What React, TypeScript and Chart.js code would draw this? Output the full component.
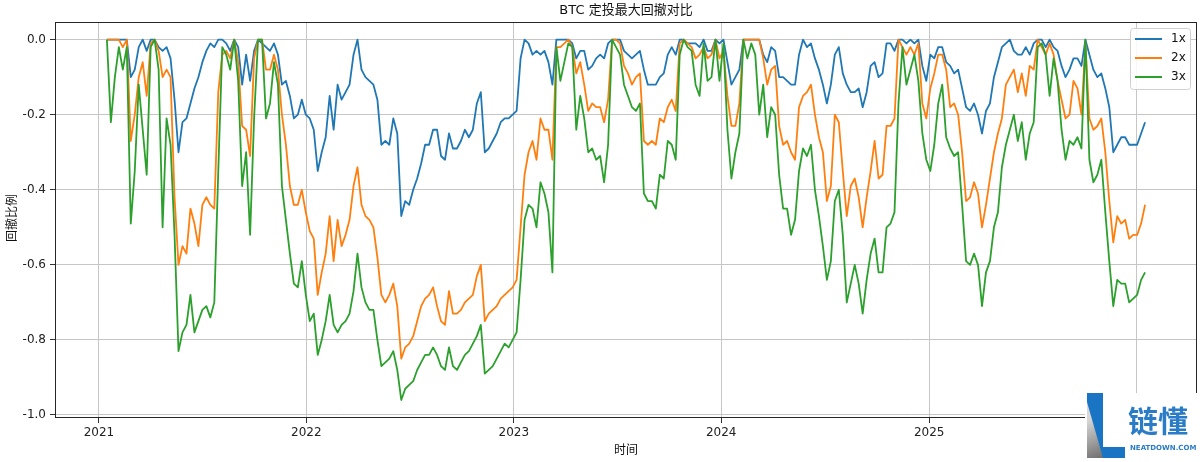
import React, { useEffect, useRef } from "react";
import { Chart, registerables } from "chart.js";

Chart.register(...registerables);

// ---- data (weekly samples) ----
const START_DATE_UTC = Date.UTC(2021, 0, 15);
const STEP_DAYS = 7;
const YEAR_TICKS = [2021, 2022, 2023, 2024, 2025, 2026];
const Y_TICKS = [0, -0.2, -0.4, -0.6, -0.8, -1.0];
const SERIES_NAMES = ["1x", "2x", "3x"];
const SERIES_COLORS = ["#1f77b4", "#ff7f0e", "#2ca02c"];

const DD_1X = [
  0, 0, 0, 0, 0, 0, -0.10, -0.08, -0.02, 0,
  -0.03, 0, 0, -0.02, -0.03, -0.02, -0.05, -0.16, -0.30, -0.22,
  -0.21, -0.17, -0.13, -0.10, -0.06, -0.03, -0.01, -0.02, 0, 0,
  -0.01, -0.03, 0, -0.02, -0.12, -0.04, -0.11, -0.03, 0, -0.01,
  -0.02, -0.03, -0.01, -0.04, -0.12, -0.11, -0.15, -0.21, -0.20, -0.16,
  -0.20, -0.21, -0.24, -0.35, -0.30, -0.26, -0.15, -0.24, -0.12, -0.16,
  -0.14, -0.12, -0.04, 0, -0.08, -0.10, -0.11, -0.12, -0.16, -0.28,
  -0.27, -0.28, -0.21, -0.25, -0.47, -0.43, -0.44, -0.40, -0.37, -0.33,
  -0.28, -0.28, -0.24, -0.24, -0.31, -0.32, -0.25, -0.29, -0.29, -0.27,
  -0.24, -0.26, -0.24, -0.17, -0.14, -0.30, -0.29, -0.27, -0.25, -0.22,
  -0.21, -0.21, -0.20, -0.19, -0.05, 0, -0.01, -0.04, -0.03, -0.04,
  -0.03, -0.06, -0.12, 0, 0, 0, 0, -0.01, -0.05, -0.03,
  -0.03, -0.08, -0.07, -0.05, -0.04, -0.05, -0.01, 0, 0, 0,
  -0.03, -0.04, -0.05, -0.04, -0.03, -0.08, -0.12, -0.12, -0.12, -0.10,
  -0.09, -0.04, -0.02, -0.04, 0, 0, -0.01, -0.01, -0.01, -0.02,
  0, -0.03, -0.03, 0, -0.01, 0, -0.06, -0.12, -0.10, -0.08,
  0, 0, 0, 0, 0, -0.04, -0.06, -0.02, -0.03, -0.10,
  -0.10, -0.11, -0.12, -0.12, -0.04, 0, -0.02, -0.01, -0.05, -0.08,
  -0.12, -0.17, -0.12, -0.04, -0.02, -0.09, -0.12, -0.14, -0.14, -0.13,
  -0.18, -0.14, -0.07, -0.06, -0.10, -0.09, -0.01, -0.01, -0.03, 0,
  0, -0.01, 0, -0.01, 0, -0.07, -0.11, -0.04, -0.05, -0.02,
  -0.02, -0.06, -0.07, -0.09, -0.08, -0.13, -0.18, -0.19, -0.17, -0.20,
  -0.25, -0.19, -0.17, -0.10, -0.06, -0.02, -0.01, 0, -0.03, -0.04,
  -0.04, -0.02, -0.04, -0.01, 0, 0, -0.02, 0, -0.02, -0.03,
  -0.07, -0.10, -0.08, -0.05, -0.05, -0.07, 0, -0.04, -0.08, -0.10,
  -0.09, -0.13, -0.18, -0.30, -0.28, -0.26, -0.26, -0.28, -0.28, -0.28,
  -0.25, -0.22,
];

const DD_2X = [
  0, 0, 0, 0, -0.02, 0, -0.27, -0.20, -0.10, -0.06,
  -0.15, -0.01, 0, -0.03, -0.10, -0.08, -0.10, -0.42, -0.60, -0.55,
  -0.57, -0.45, -0.49, -0.55, -0.44, -0.42, -0.44, -0.45, -0.14, -0.04,
  -0.03, -0.05, 0, -0.06, -0.23, -0.24, -0.31, -0.05, 0, 0,
  -0.08, -0.08, -0.04, -0.08, -0.20, -0.28, -0.39, -0.44, -0.44, -0.40,
  -0.46, -0.51, -0.53, -0.68, -0.62, -0.57, -0.47, -0.59, -0.48, -0.55,
  -0.52, -0.48, -0.39, -0.34, -0.44, -0.47, -0.48, -0.50, -0.58, -0.68,
  -0.70, -0.68, -0.65, -0.71, -0.85, -0.82, -0.81, -0.79, -0.75, -0.71,
  -0.69, -0.68, -0.66, -0.71, -0.75, -0.76, -0.67, -0.73, -0.73, -0.72,
  -0.70, -0.69, -0.68, -0.63, -0.60, -0.75, -0.73, -0.72, -0.71, -0.69,
  -0.68, -0.67, -0.66, -0.64, -0.50, -0.36, -0.30, -0.27, -0.32, -0.21,
  -0.24, -0.24, -0.32, -0.02, -0.02, -0.01, 0, -0.02, -0.09, -0.06,
  -0.12, -0.19, -0.17, -0.18, -0.18, -0.22, -0.16, 0, 0, -0.01,
  -0.07, -0.09, -0.12, -0.10, -0.09, -0.27, -0.28, -0.27, -0.28, -0.21,
  -0.22, -0.18, -0.16, -0.19, -0.01, 0, -0.01, -0.02, -0.05, -0.04,
  -0.02, -0.05, -0.04, 0, -0.05, -0.03, -0.15, -0.23, -0.23, -0.17,
  0, 0, 0, 0, 0, -0.05, -0.12, -0.08, -0.07, -0.23,
  -0.28, -0.27, -0.30, -0.32, -0.18, -0.15, -0.14, -0.12, -0.20, -0.26,
  -0.30, -0.43, -0.39, -0.20, -0.22, -0.35, -0.47, -0.39, -0.37, -0.42,
  -0.50, -0.42, -0.35, -0.27, -0.37, -0.36, -0.23, -0.23, -0.21, 0,
  -0.02, -0.04, -0.02, -0.04, -0.01, -0.17, -0.21, -0.13, -0.09, -0.04,
  -0.04, -0.08, -0.18, -0.17, -0.20, -0.30, -0.43, -0.42, -0.38, -0.41,
  -0.50, -0.44, -0.37, -0.30, -0.25, -0.21, -0.12, -0.10, -0.08, -0.14,
  -0.09, -0.15, -0.07, -0.08, 0, -0.02, -0.04, -0.01, -0.04, -0.11,
  -0.16, -0.21, -0.20, -0.11, -0.13, -0.20, -0.01, -0.21, -0.24, -0.23,
  -0.21, -0.30, -0.43, -0.54, -0.47, -0.49, -0.48, -0.53, -0.52, -0.52,
  -0.49, -0.44,
];

const DD_3X = [
  0, -0.22, -0.10, -0.02, -0.08, -0.02, -0.49, -0.35, -0.12, -0.24,
  -0.36, -0.02, 0, -0.08, -0.50, -0.21, -0.28, -0.52, -0.83, -0.78,
  -0.76, -0.68, -0.78, -0.75, -0.72, -0.71, -0.74, -0.70, -0.35, -0.02,
  -0.04, -0.08, 0, -0.11, -0.39, -0.30, -0.52, -0.21, 0, 0,
  -0.21, -0.17, -0.06, -0.12, -0.39, -0.48, -0.57, -0.65, -0.66, -0.59,
  -0.68, -0.75, -0.73, -0.84, -0.80, -0.75, -0.68, -0.76, -0.78, -0.76,
  -0.75, -0.73, -0.67, -0.57, -0.66, -0.70, -0.72, -0.72, -0.80, -0.87,
  -0.86, -0.85, -0.83, -0.88, -0.96, -0.93, -0.92, -0.91, -0.88, -0.86,
  -0.84, -0.84, -0.82, -0.84, -0.87, -0.88, -0.82, -0.87, -0.88, -0.86,
  -0.84, -0.83, -0.81, -0.79, -0.76, -0.89, -0.88, -0.87, -0.85, -0.83,
  -0.81, -0.82, -0.80, -0.78, -0.64, -0.48, -0.44, -0.45, -0.50, -0.38,
  -0.41, -0.46, -0.62, -0.02, -0.11, -0.06, -0.01, -0.02, -0.24, -0.15,
  -0.21, -0.30, -0.29, -0.32, -0.31, -0.38, -0.28, 0, -0.02, -0.04,
  -0.12, -0.15, -0.18, -0.19, -0.17, -0.41, -0.43, -0.43, -0.45, -0.36,
  -0.37, -0.27, -0.28, -0.32, -0.04, 0, -0.02, -0.03, -0.12, -0.15,
  -0.01, -0.11, -0.10, 0, -0.11, -0.01, -0.24, -0.37, -0.30, -0.25,
  0, -0.05, -0.01, -0.04, -0.20, -0.12, -0.26, -0.18, -0.20, -0.36,
  -0.45, -0.45, -0.52, -0.48, -0.35, -0.29, -0.31, -0.28, -0.40, -0.47,
  -0.55, -0.64, -0.59, -0.43, -0.40, -0.52, -0.70, -0.65, -0.60, -0.65,
  -0.73, -0.64, -0.57, -0.53, -0.62, -0.62, -0.50, -0.49, -0.46, -0.17,
  -0.02, -0.12, -0.08, -0.04, -0.11, -0.25, -0.32, -0.35, -0.28, -0.17,
  -0.12, -0.26, -0.29, -0.31, -0.30, -0.44, -0.59, -0.60, -0.57, -0.60,
  -0.71, -0.62, -0.59, -0.50, -0.46, -0.34, -0.28, -0.24, -0.20, -0.27,
  -0.22, -0.32, -0.25, -0.22, -0.02, -0.01, -0.04, -0.15, -0.05, -0.11,
  -0.24, -0.32, -0.27, -0.28, -0.26, -0.29, 0, -0.32, -0.38, -0.36,
  -0.32, -0.46, -0.59, -0.71, -0.64, -0.65, -0.65, -0.70, -0.69, -0.68,
  -0.64, -0.62,
];

const TITLE = "BTC 定投最大回撤对比";
const X_TITLE = "时间";
const Y_TITLE = "回撤比例";

const DAY_MS = 86400000;
const FONT_LATIN = '"DejaVu Sans", "Noto Sans CJK SC", sans-serif';
const FONT_CJK = '"DejaVu Sans", "Noto Sans CJK SC", sans-serif';

const SERIES = [DD_1X, DD_2X, DD_3X];

const decorPlugin = {
  id: "decor",
  afterDraw(chart: any) {
    const { ctx, chartArea: a } = chart;
    ctx.save();
    // frame (all four spines)
    ctx.strokeStyle = "#262626";
    ctx.lineWidth = 1;
    ctx.strokeRect(Math.round(a.left) + 0.5, Math.round(a.top) + 0.5, Math.round(a.right - a.left) - 1, Math.round(a.bottom - a.top) - 1);

    const cx = (a.left + a.right) / 2;
    ctx.fillStyle = "#111";
    ctx.textAlign = "center";
    ctx.textBaseline = "middle";
    ctx.font = `13px ${FONT_CJK}`;
    ctx.fillText(TITLE, cx, 11);
    ctx.font = `12px ${FONT_CJK}`;
    ctx.fillText(X_TITLE, cx, 451);
    ctx.save();
    ctx.translate(13, (a.top + a.bottom) / 2 - 2);
    ctx.rotate(-Math.PI / 2);
    ctx.fillText(Y_TITLE, 0, 0);
    ctx.restore();

    // legend
    const lx = 1130.5, ly = 28.5, lw = 60, lh = 61;
    ctx.beginPath();
    (ctx as any).roundRect(lx, ly, lw, lh, 3);
    ctx.fillStyle = "rgba(255,255,255,0.85)";
    ctx.fill();
    ctx.strokeStyle = "#d0d0d0";
    ctx.lineWidth = 1;
    ctx.stroke();
    ctx.font = `12px ${FONT_LATIN}`;
    ctx.textAlign = "left";
    SERIES_NAMES.forEach((name, i) => {
      const y = 39 + i * 19;
      ctx.strokeStyle = SERIES_COLORS[i];
      ctx.lineWidth = 2;
      ctx.beginPath();
      ctx.moveTo(1135, y);
      ctx.lineTo(1162, y);
      ctx.stroke();
      ctx.fillStyle = "#111";
      ctx.fillText(name, 1171, y);
    });

    // watermark
    ctx.fillStyle = "#ffffff";
    ctx.fillRect(1085, 393, 115, 69);
    ctx.fillStyle = "#1a74c4";
    ctx.fillRect(1087, 393, 16, 65);
    const g = ctx.createLinearGradient(1087, 420, 1103, 458);
    g.addColorStop(0, "#d8d8d8");
    g.addColorStop(1, "#6e6e6e");
    ctx.fillStyle = g;
    ctx.beginPath();
    ctx.moveTo(1087, 402);
    ctx.lineTo(1103, 458);
    ctx.lineTo(1087, 458);
    ctx.closePath();
    ctx.fill();
    ctx.fillStyle = "#1a74c4";
    ctx.fillRect(1103, 447, 22, 11);
    ctx.fillStyle = "#2a7cc6";
    ctx.font = `bold 30px "Noto Sans CJK SC", sans-serif`;
    ctx.textAlign = "left";
    ctx.textBaseline = "middle";
    ctx.fillText("链懂", 1128, 421);
    ctx.font = `bold 7px "DejaVu Sans", sans-serif`;
    ctx.fillText("NEATDOWN.COM", 1130, 448);
    ctx.restore();
  },
};

export default function App() {
  const ref = useRef<HTMLCanvasElement>(null);
  useEffect(() => {
    const canvas = ref.current;
    if (!canvas) return;
    const xs = DD_1X.map((_, i) => START_DATE_UTC + i * STEP_DAYS * DAY_MS);
    const x0 = xs[0];
    const x1 = xs[xs.length - 1];
    const span = x1 - x0;
    const datasets = SERIES.map((vals, k) => ({
      label: SERIES_NAMES[k],
      data: vals.map((v, i) => ({ x: xs[i], y: v })),
      borderColor: SERIES_COLORS[k],
      backgroundColor: SERIES_COLORS[k],
      borderWidth: 1.8,
      pointRadius: 0,
      tension: 0,
      borderJoinStyle: "round" as const,
      order: 2 - k,
    }));
    const chart = new Chart(canvas, {
      type: "line",
      data: { datasets },
      plugins: [decorPlugin],
      options: {
        animation: false,
        responsive: false,
        devicePixelRatio: 1,
        parsing: false,
        layout: { padding: { top: 22, right: 3, left: 0, bottom: 0 } },
        plugins: { legend: { display: false }, title: { display: false }, tooltip: { enabled: false } },
        scales: {
          x: {
            type: "linear",
            min: x0 - 0.05 * span,
            max: x1 + 0.05 * span,
            afterBuildTicks: (s: any) => {
              s.ticks = YEAR_TICKS.map((y) => ({ value: Date.UTC(y, 0, 1) }));
            },
            afterFit: (s: any) => {
              s.height = 44;
            },
            grid: { color: "#c6c6c6", lineWidth: 1, drawTicks: true, tickLength: 5, tickColor: "#333" },
            border: { display: false },
            ticks: {
              autoSkip: false,
              maxRotation: 0,
              padding: 3,
              color: "#222",
              font: { family: FONT_LATIN, size: 12 },
              callback: (v: any) => String(new Date(Number(v)).getUTCFullYear()),
            },
          },
          y: {
            type: "linear",
            min: -1.008,
            max: 0.047,
            afterBuildTicks: (s: any) => {
              s.ticks = Y_TICKS.map((v) => ({ value: v }));
            },
            afterFit: (s: any) => {
              s.width = 55;
            },
            grid: { color: "#c6c6c6", lineWidth: 1, drawTicks: true, tickLength: 5, tickColor: "#333" },
            border: { display: false },
            ticks: {
              padding: 4,
              color: "#222",
              font: { family: FONT_LATIN, size: 12 },
              callback: (v: any) => Number(v).toFixed(1),
            },
          },
        },
      },
    } as any);
    return () => chart.destroy();
  }, []);
  return (
    <div style={{ position: "fixed", left: 0, top: 0, width: 1200, height: 462, background: "#fff" }}>
      <canvas ref={ref} width={1200} height={462} style={{ display: "block", width: 1200, height: 462 }} />
    </div>
  );
}
